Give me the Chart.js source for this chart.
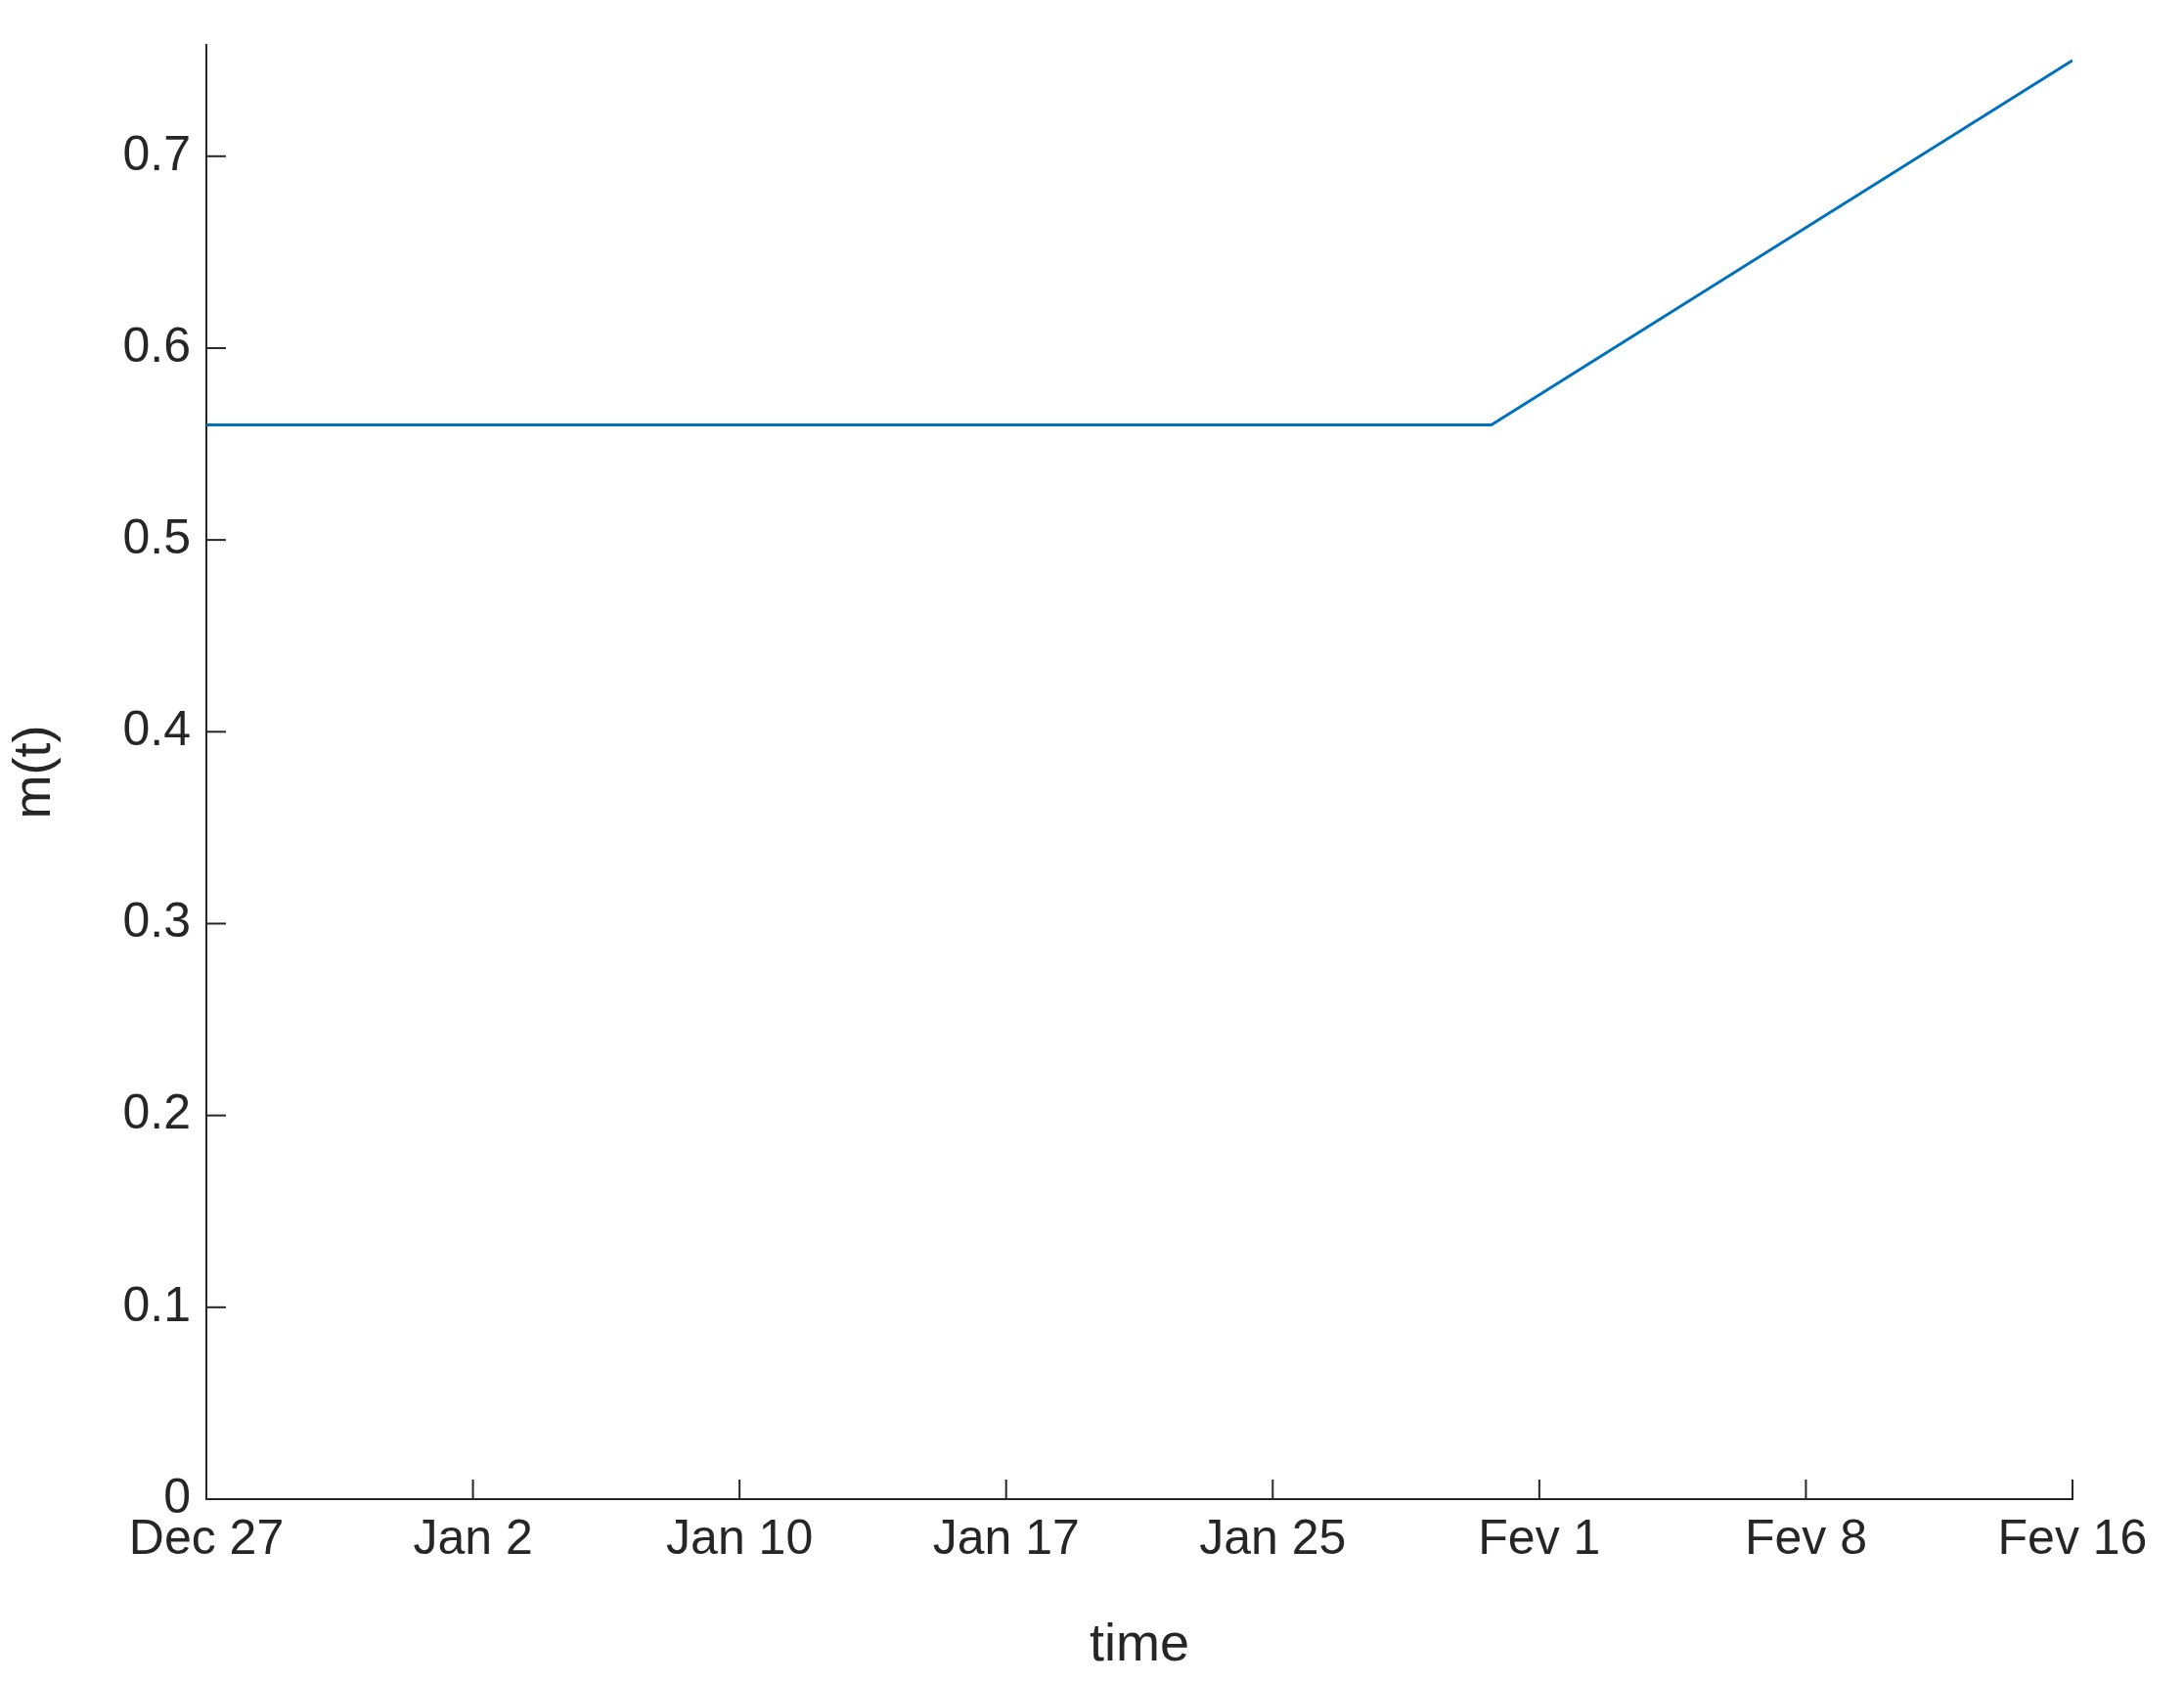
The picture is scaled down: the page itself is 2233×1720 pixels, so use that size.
<!DOCTYPE html>
<html>
<head>
<meta charset="utf-8">
<script src="https://cdn.jsdelivr.net/npm/chart.js@4.4.0/dist/chart.umd.min.js"></script>
<style>
  html, body { margin: 0; padding: 0; background: #fff; }
  canvas { display: block; }
</style>
</head>
<body>
<canvas id="chart" width="2233" height="1720"></canvas>
<script>
// Data: x is tick index position (ticks are evenly spaced in the reference)
const TICK_LABELS = ['Dec 27', 'Jan 2', 'Jan 10', 'Jan 17', 'Jan 25', 'Fev 1', 'Fev 8', 'Fev 16'];
const X_POS = [0, 4.82, 7];
const M_VALUES = [0.56, 0.56, 0.75];
const Y_TICKS = [0, 0.1, 0.2, 0.3, 0.4, 0.5, 0.6, 0.7];

const TEXT = '#262626';
const FONT = 'Liberation Sans, Arial, sans-serif';

// Inward tick marks, MATLAB style
const innerTicks = {
    id: 'innerTicks',
    afterDraw(chart) {
        const { ctx, scales: { x, y } } = chart;
        ctx.save();
        ctx.strokeStyle = TEXT;
        ctx.lineWidth = 2;
        TICK_LABELS.forEach((_, i) => {
            const px = x.getPixelForValue(i);
            ctx.beginPath();
            ctx.moveTo(px, y.bottom);
            ctx.lineTo(px, y.bottom - 20);
            ctx.stroke();
        });
        Y_TICKS.forEach(v => {
            const py = y.getPixelForValue(v);
            ctx.beginPath();
            ctx.moveTo(x.left, py);
            ctx.lineTo(x.left + 20, py);
            ctx.stroke();
        });
        ctx.restore();
    }
};

new Chart(document.getElementById('chart'), {
    type: 'line',
    data: {
        datasets: [{
            data: X_POS.map((x, i) => ({ x: x, y: M_VALUES[i] })),
            borderColor: '#0072BD',
            borderWidth: 3,
            pointRadius: 0,
            tension: 0
        }]
    },
    options: {
        responsive: false,
        animation: false,
        layout: { padding: { top: 29, right: 114, left: 0, bottom: 0 } },
        plugins: { legend: { display: false }, tooltip: { enabled: false } },
        scales: {
            x: {
                type: 'linear',
                min: 0,
                max: 7,
                afterBuildTicks: axis => { axis.ticks = TICK_LABELS.map((_, i) => ({ value: i })); },
                afterFit: axis => { axis.height = 187; },
                ticks: {
                    color: TEXT,
                    font: { family: FONT, size: 50 },
                    maxRotation: 0,
                    autoSkip: false,
                    padding: 12,
                    callback: v => TICK_LABELS[v]
                },
                grid: { display: false, drawTicks: false },
                border: { color: TEXT, width: 2 },
                title: { display: true, text: 'time', color: TEXT, font: { family: FONT, size: 54 }, padding: { top: 0 } }
            },
            y: {
                min: 0,
                max: 0.758,
                afterBuildTicks: axis => { axis.ticks = Y_TICKS.map(v => ({ value: v })); },
                afterFit: axis => { axis.width = 211; },
                ticks: {
                    color: TEXT,
                    font: { family: FONT, size: 50 },
                    padding: 16,
                    callback: v => v === 0 ? '0' : v.toFixed(1)
                },
                grid: { display: false, drawTicks: false },
                border: { color: TEXT, width: 2 },
                title: { display: true, text: 'm(t)', color: TEXT, font: { family: FONT, size: 54 }, padding: { bottom: 6 } }
            }
        }
    },
    plugins: [innerTicks]
});
</script>
</body>
</html>
